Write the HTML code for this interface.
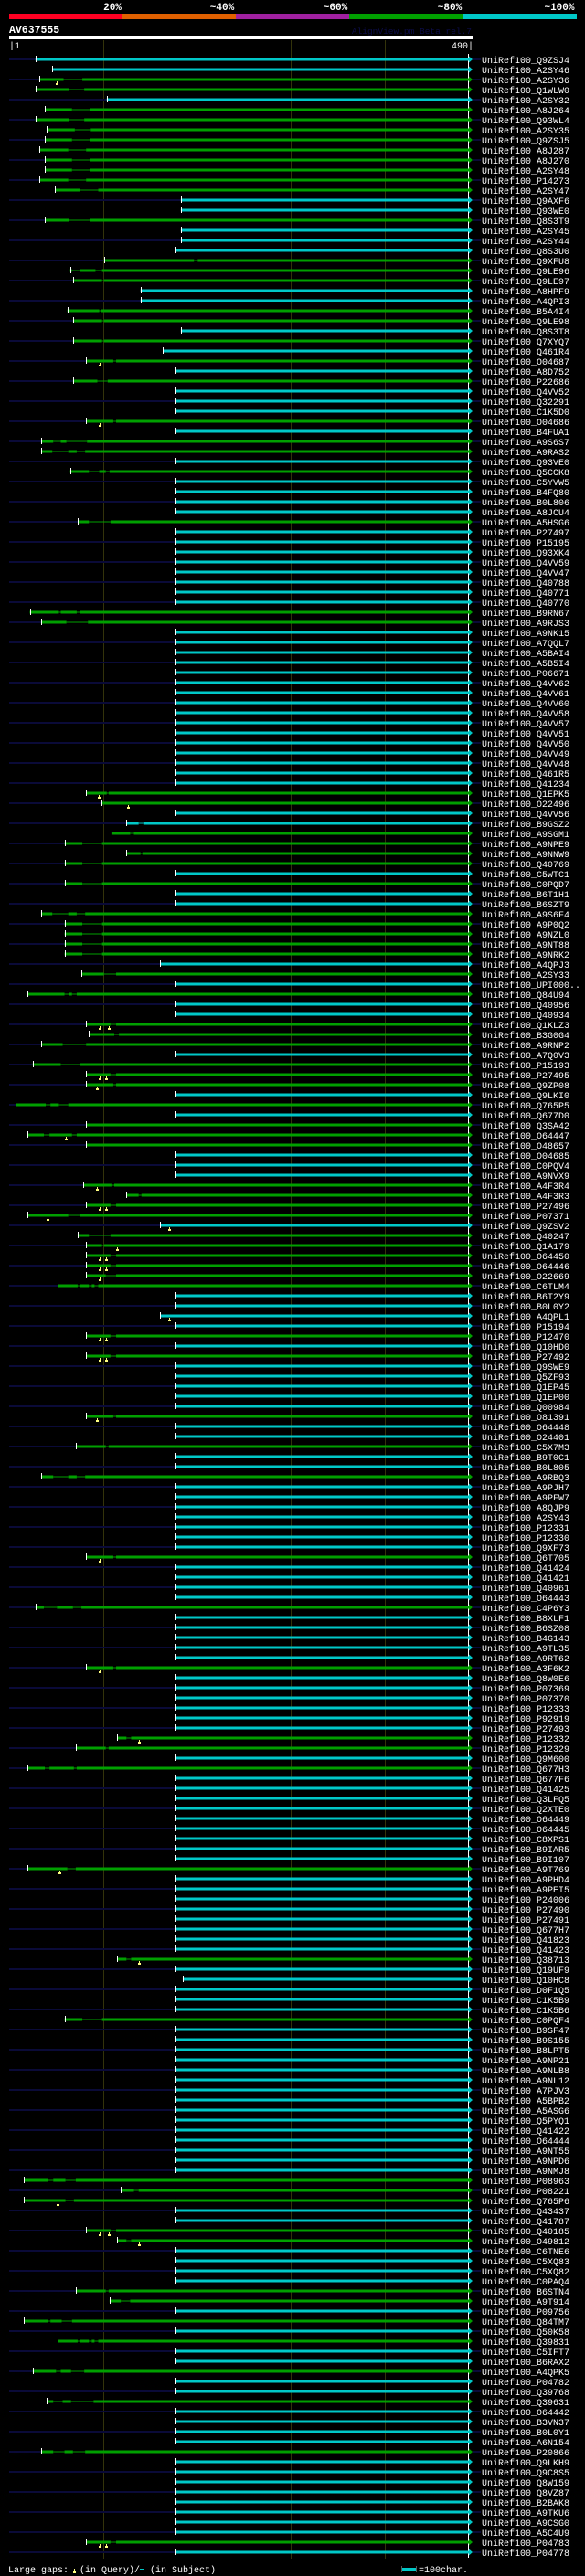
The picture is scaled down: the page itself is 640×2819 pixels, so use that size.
<!DOCTYPE html>
<html><head><meta charset="utf-8">
<style>
html,body{margin:0;padding:0;background:#000;}
body{width:640px;height:2819px;overflow:hidden;}
svg{display:block;}
text{font-family:"Liberation Mono","DejaVu Sans Mono",monospace;}
</style></head>
<body>
<svg id="chart" width="640" height="2819" xmlns="http://www.w3.org/2000/svg">
  <rect x="0" y="0" width="640" height="2819" fill="#000"/>
  <g>
    <rect x="10" y="15" width="124" height="6" fill="#ff0022"/>
    <rect x="134" y="15" width="124" height="6" fill="#e06000"/>
    <rect x="258" y="15" width="124" height="6" fill="#a020a0"/>
    <rect x="382" y="15" width="124" height="6" fill="#00a000"/>
    <rect x="506" y="15" width="125" height="6" fill="#00c8c8"/>
    <text x="123" y="11" fill="#fff" font-size="11" font-weight="bold" text-anchor="middle">20%</text>
    <text x="243" y="11" fill="#fff" font-size="11" font-weight="bold" text-anchor="middle">~40%</text>
    <text x="367" y="11" fill="#fff" font-size="11" font-weight="bold" text-anchor="middle">~60%</text>
    <text x="492" y="11" fill="#fff" font-size="11" font-weight="bold" text-anchor="middle">~80%</text>
    <text x="612" y="11" fill="#fff" font-size="11" font-weight="bold" text-anchor="middle">~100%</text>
  </g>
  <text x="10" y="36" fill="#fff" font-size="11.5" font-weight="bold">AV637555</text>
  <text x="516" y="37" fill="#0c0c48" font-size="9.5" text-anchor="end">AlignView.pm Beta rel.7</text>
  <rect x="10" y="39" width="508" height="4" fill="#fff"/>
  <text x="10" y="53" fill="#fff" font-size="10">|1</text>
  <text x="518" y="53" fill="#fff" font-size="10" text-anchor="end">490|</text>
  <g id="grid"></g>
  <g id="rows"></g>
  <g>
    <text x="9" y="2815" fill="#fff" font-size="10">Large gaps:</text>
    <rect x="81" y="2811" width="1" height="2" fill="#ffff80"/>
    <rect x="80" y="2813" width="3" height="3" fill="#ffff80"/>
    <text x="87" y="2815" fill="#fff" font-size="10">(in Query)/</text>
    <rect x="153" y="2811" width="5" height="1" fill="#00c8c8"/>
    <text x="164" y="2815" fill="#fff" font-size="10">(in Subject)</text>
    <rect x="439" y="2808" width="1" height="7" fill="#555"/>
    <rect x="440" y="2810" width="15" height="3" fill="#00c8c8"/>
    <rect x="455" y="2808" width="1" height="7" fill="#555"/>
    <text x="458" y="2815" fill="#fff" font-size="10">=100char.</text>
  </g>
</svg>
<script>
const queryLength = 490;
const gridTicks = [100, 200, 300, 400];
const hitNames = ["Q9ZSJ4","A2SY46","A2SY36","Q1WLW0","A2SY32","A8J264","Q93WL4","A2SY35","Q9ZSJ5","A8J287","A8J270","A2SY48","P14273","A2SY47","Q9AXF6","Q93WE0","Q8S3T9","A2SY45","A2SY44","Q8S3U0","Q9XFU8","Q9LE96","Q9LE97","A8HPF9","A4QPI3","B5A4I4","Q9LE98","Q8S3T8",
"Q7XYQ7","Q461R4","O04687","A8D752","P22686","Q4VV52","Q32291","C1K5D0","O04686","B4FUA1","A9S6S7","A9RAS2","Q93VE0","Q5CCK8","C5YVW5","B4FQ80","B0L806","A8JCU4","A5HSG6","P27497","P15195","Q93XK4","Q4VV59","Q4VV47","Q40788","Q40771","Q40770","B9RN67",
"A9RJS3","A9NK15","A7QQL7","A5BAI4","A5B5I4","P06671","Q4VV62","Q4VV61","Q4VV60","Q4VV58","Q4VV57","Q4VV51","Q4VV50","Q4VV49","Q4VV48","Q461R5","Q41234","Q1EPK5","O22496","Q4VV56","B9GSZ2","A9SGM1","A9NPE9","A9NNW9","Q40769","C5WTC1","C0PQD7","B6T1H1",
"B6SZT9","A9S6F4","A9P0Q2","A9NZL0","A9NT88","A9NRK2","A4QPJ3","A2SY33","UPI000..","Q84U94","Q40956","Q40934","Q1KLZ3","B3G0G4","A9RNP2","A7Q0V3","P15193","P27495","Q9ZP08","Q9LKI0","Q765P5","Q677D0","Q3SA42","O64447","O48657","O04685","C0PQV4","A9NVX9",
"A4F3R4","A4F3R3","P27496","P07371","Q9ZSV2","Q40247","Q1A179","O64450","O64446","O22669","C6TLM4","B6T2Y9","B0L0Y2","A4QPL1","P15194","P12470","Q10HD0","P27492","Q9SWE9","Q5ZF93","Q1EP45","Q1EP00","Q00984","O81391","O64448","O24401","C5X7M3","B9T0C1",
"B0L805","A9RBQ3","A9PJH7","A9PFW7","A8QJP9","A2SY43","P12331","P12330","Q9XF73","Q6T705","Q41424","Q41421","Q40961","O64443","C4P6Y3","B8XLF1","B6SZ08","B4G143","A9TL35","A9RT62","A3F6K2","Q8W0E6","P07369","P07370","P12333","P92919","P27493","P12332",
"P12329","Q9M600","Q677H3","Q677F6","Q41425","Q3LFQ5","Q2XTE0","O64449","O64445","C8XPS1","B9IAR5","B9I107","A9T769","A9PHD4","A9PEI5","P24006","P27490","P27491","Q677H7","Q41823","Q41423","Q38713","Q19UF9","Q10HC8","D0F1Q5","C1K5B9","C1K5B6","C0PQF4",
"B9SF47","B9S155","B8LPT5","A9NP21","A9NLB8","A9NL12","A7PJV3","A5BPB2","A5ASG6","Q5PYQ1","Q41422","O64444","A9NT55","A9NPD6","A9NMJ8","P08963","P08221","Q765P6","Q43437","Q41787","Q40185","O49812","C6TNE6","C5XQ83","C5XQ82","C0PAQ4","B6STN4","A9T914",
"P09756","Q84TM7","Q50K58","Q39831","C5IFT7","B6RAX2","A4QPK5","P04782","Q39768","Q39631","O64442","B3VN37","B0L0Y1","A6N154","P20866","Q9LKH9","Q9C8S5","Q8W159","Q8VZ87","B2BAK8","A9TKU6","A9CSG0","A5C4U9","P04783","P04778"];
const hitStarts = [28,46,32,28,104,38,28,40,38,32,38,38,32,49,183,183,38,183,183,177,101,65,68,140,140,62,68,183,
68,164,82,177,68,177,177,177,82,177,34,34,177,65,177,177,177,177,73,177,177,177,177,177,177,177,177,22,
34,177,177,177,177,177,177,177,177,177,177,177,177,177,177,177,177,82,98,177,125,109,59,125,59,177,59,177,
177,34,59,59,59,59,161,77,177,19,177,177,82,85,34,177,25,82,82,177,7,177,82,19,82,177,177,177,
79,125,82,19,161,73,82,82,82,82,52,177,177,161,177,82,177,82,177,177,177,177,177,82,177,177,71,177,
177,34,177,177,177,177,177,177,177,82,177,177,177,177,28,177,177,177,177,177,82,177,177,177,177,177,177,115,
71,177,19,177,177,177,177,177,177,177,177,177,19,177,177,177,177,177,177,177,177,115,177,185,177,177,177,59,
177,177,177,177,177,177,177,177,177,177,177,177,177,177,177,16,119,16,177,177,82,115,177,177,177,177,71,107,
177,16,177,52,177,177,25,177,177,40,177,177,177,177,34,177,177,177,177,177,177,177,177,82,177];
const hitTypes = [
"ccggcgggggggggccgcccgggccggc",
"gcgcgcccgcggcgccccgcccccccccg".slice(0,0) + "gcgcgcccgcggcgccccgccccccccg",
"gccccccccccccccccggccggggcgc",
"cgggggcgcgccgggcgggcgcgggccc",
"ggggcggggggccccgcgcccccgccgc",
"cgcccccccgccccgcccccgccccccg",
"gcgcccccccccgccccccccgcccccg",
"cccccccccccccccgggccggccccgg",
"cgcgccgccgccccgccccccccgc"
].join('');
const gapSpans = [[3,58,78],[4,64,80],[6,67,86],[7,64,80],[8,70,87],[9,67,86],[10,63,82],[11,67,86],[12,67,86],[13,63,82],[14,75,95],[17,64,86],
[21,197,201],[22,67,75],[22,92,99],[23,99,101],[26,96,98],[27,99,101],[29,99,101],[31,111,114],[33,94,105],[37,111,114],[39,47,55],[39,61,83],[40,46,63],[40,72,81],[42,85,96],[42,103,107],[47,85,108],[56,53,55],[56,72,75],[57,61,84],
[74,104,106],[77,138,143],[78,129,133],[79,78,99],[80,140,142],[81,78,99],[83,78,99],[86,46,63],[86,72,81],[87,78,99],[88,78,99],[89,78,99],[90,78,99],[92,101,114],[94,59,64],[94,67,72],[97,108,114],[98,112,117],[99,57,82],[101,55,76],[102,108,114],[103,111,114],[105,39,44],[105,53,63],[108,37,43],[108,67,72],
[113,109,112],[114,138,141],[115,108,114],[116,63,75],[118,85,108],[119,99,101],[120,108,114],[121,108,114],[122,103,114],[123,73,75],[123,85,88],[123,91,95],[128,108,114],[130,108,114],[136,111,114],[139,103,106],[142,47,63],[142,72,81],[150,111,114],[155,37,51],[155,68,77],[161,111,114],[168,125,130],
[169,103,106],[171,38,43],[171,69,72],[181,62,71],[190,125,130],[196,78,99],[212,41,47],[212,60,71],[213,133,138],[214,60,69],[217,108,114],[218,125,130],[223,103,106],[224,119,129],[226,41,44],[226,56,67],[228,73,75],[228,85,88],[228,91,95],[231,50,55],[231,66,80],[234,47,57],[234,66,90],[239,47,59],[239,68,81],[248,108,114]];
const gapMarkers = [[3,51],[31,96],[37,96],[74,95],[75,127],[97,96],[97,106],[102,96],[102,103],[103,94],[108,60],[113,94],[115,96],[115,103],[116,41],[117,170],[119,115],[120,96],[120,103],[121,96],[121,103],[122,96],[126,170],[128,96],[128,103],[130,96],[130,103],[136,94],[150,96],[161,96],[168,138],[181,54],[190,138],[214,52],[217,96],[217,106],[218,138],[248,96],[248,103]];

const NS = "http://www.w3.org/2000/svg";
const X0 = 10, X1 = 513, ROW0 = 65, ROWH = 11;
function xScale(r){ return X0 + r * (X1 - X0) / queryLength; }
function yRow(i){ return ROW0 + (i - 1) * ROWH; }
function mk(tag, attrs, parent){ const e = document.createElementNS(NS, tag); for (const k in attrs) e.setAttribute(k, attrs[k]); parent.appendChild(e); return e; }

const grid = document.getElementById('grid');
gridTicks.forEach(t => {
  const gl = mk('rect', {x: Math.round(xScale(t)), y: 44, width: 1, height: 2756, fill: '#33330a'}, grid);
  
  
});

const rows = document.getElementById('rows');
const white = mk('rect', {x: 512, y: 59, width: 1, height: 2740, fill: '#fff'}, rows);



hitNames.forEach((name, k) => {
  const i = k + 1;
  const y = yRow(i);
  const s = hitStarts[k];
  const col = hitTypes[k] === 'c' ? '#00c8c8' : '#00a000';
  const g = mk('g', {}, rows);
  
  
  const sx = xScale(s);
  if (i % 2 === 1) {
    mk('rect', {x: X0, y: y - 1, width: sx - X0, height: 2, fill: '#0a0a38'}, g);
    mk('rect', {x: 517, y: y - 1, width: 9, height: 2, fill: '#0a0a38'}, g);
  }
  const gaps = gapSpans.filter(gp => gp[0] === i);
  let cur = s;
  gaps.forEach(gp => {
    const bar = mk('rect', {x: xScale(cur), y: y - 1.5, width: xScale(gp[1]) - xScale(cur), height: 3, fill: col}, g);
    
    
    mk('rect', {x: xScale(gp[1]), y: y - 0.5, width: xScale(gp[2]) - xScale(gp[1]), height: 1, fill: col}, g);
    cur = gp[2];
  });
  const bar = mk('rect', {x: xScale(cur), y: y - 1.5, width: X1 - xScale(cur), height: 3, fill: col}, g);
  
  
  const tick = mk('rect', {x: Math.round(sx), y: y - 4, width: 1, height: 7, fill: '#fff'}, g);
  
  
  const arr = mk('polygon', {points: `513,${y-3.5} 517,${y} 513,${y+3.5}`, fill: col}, g);
  
  
  gapMarkers.filter(m => m[0] === i).forEach(m => {
    const mx = Math.round(xScale(m[1]));
    const mm = mk('rect', {x: mx, y: y + 2, width: 1, height: 2, fill: '#ffff80'}, g);
    
    
    mk('rect', {x: mx - 1, y: y + 4, width: 3, height: 2, fill: '#ffff80'}, g);
  });
  const t = mk('text', {x: 527, y: y + 4, fill: '#fff', 'font-size': 10}, g);
  t.textContent = 'UniRef100_' + name;
  
  
});
</script>
</body></html>
